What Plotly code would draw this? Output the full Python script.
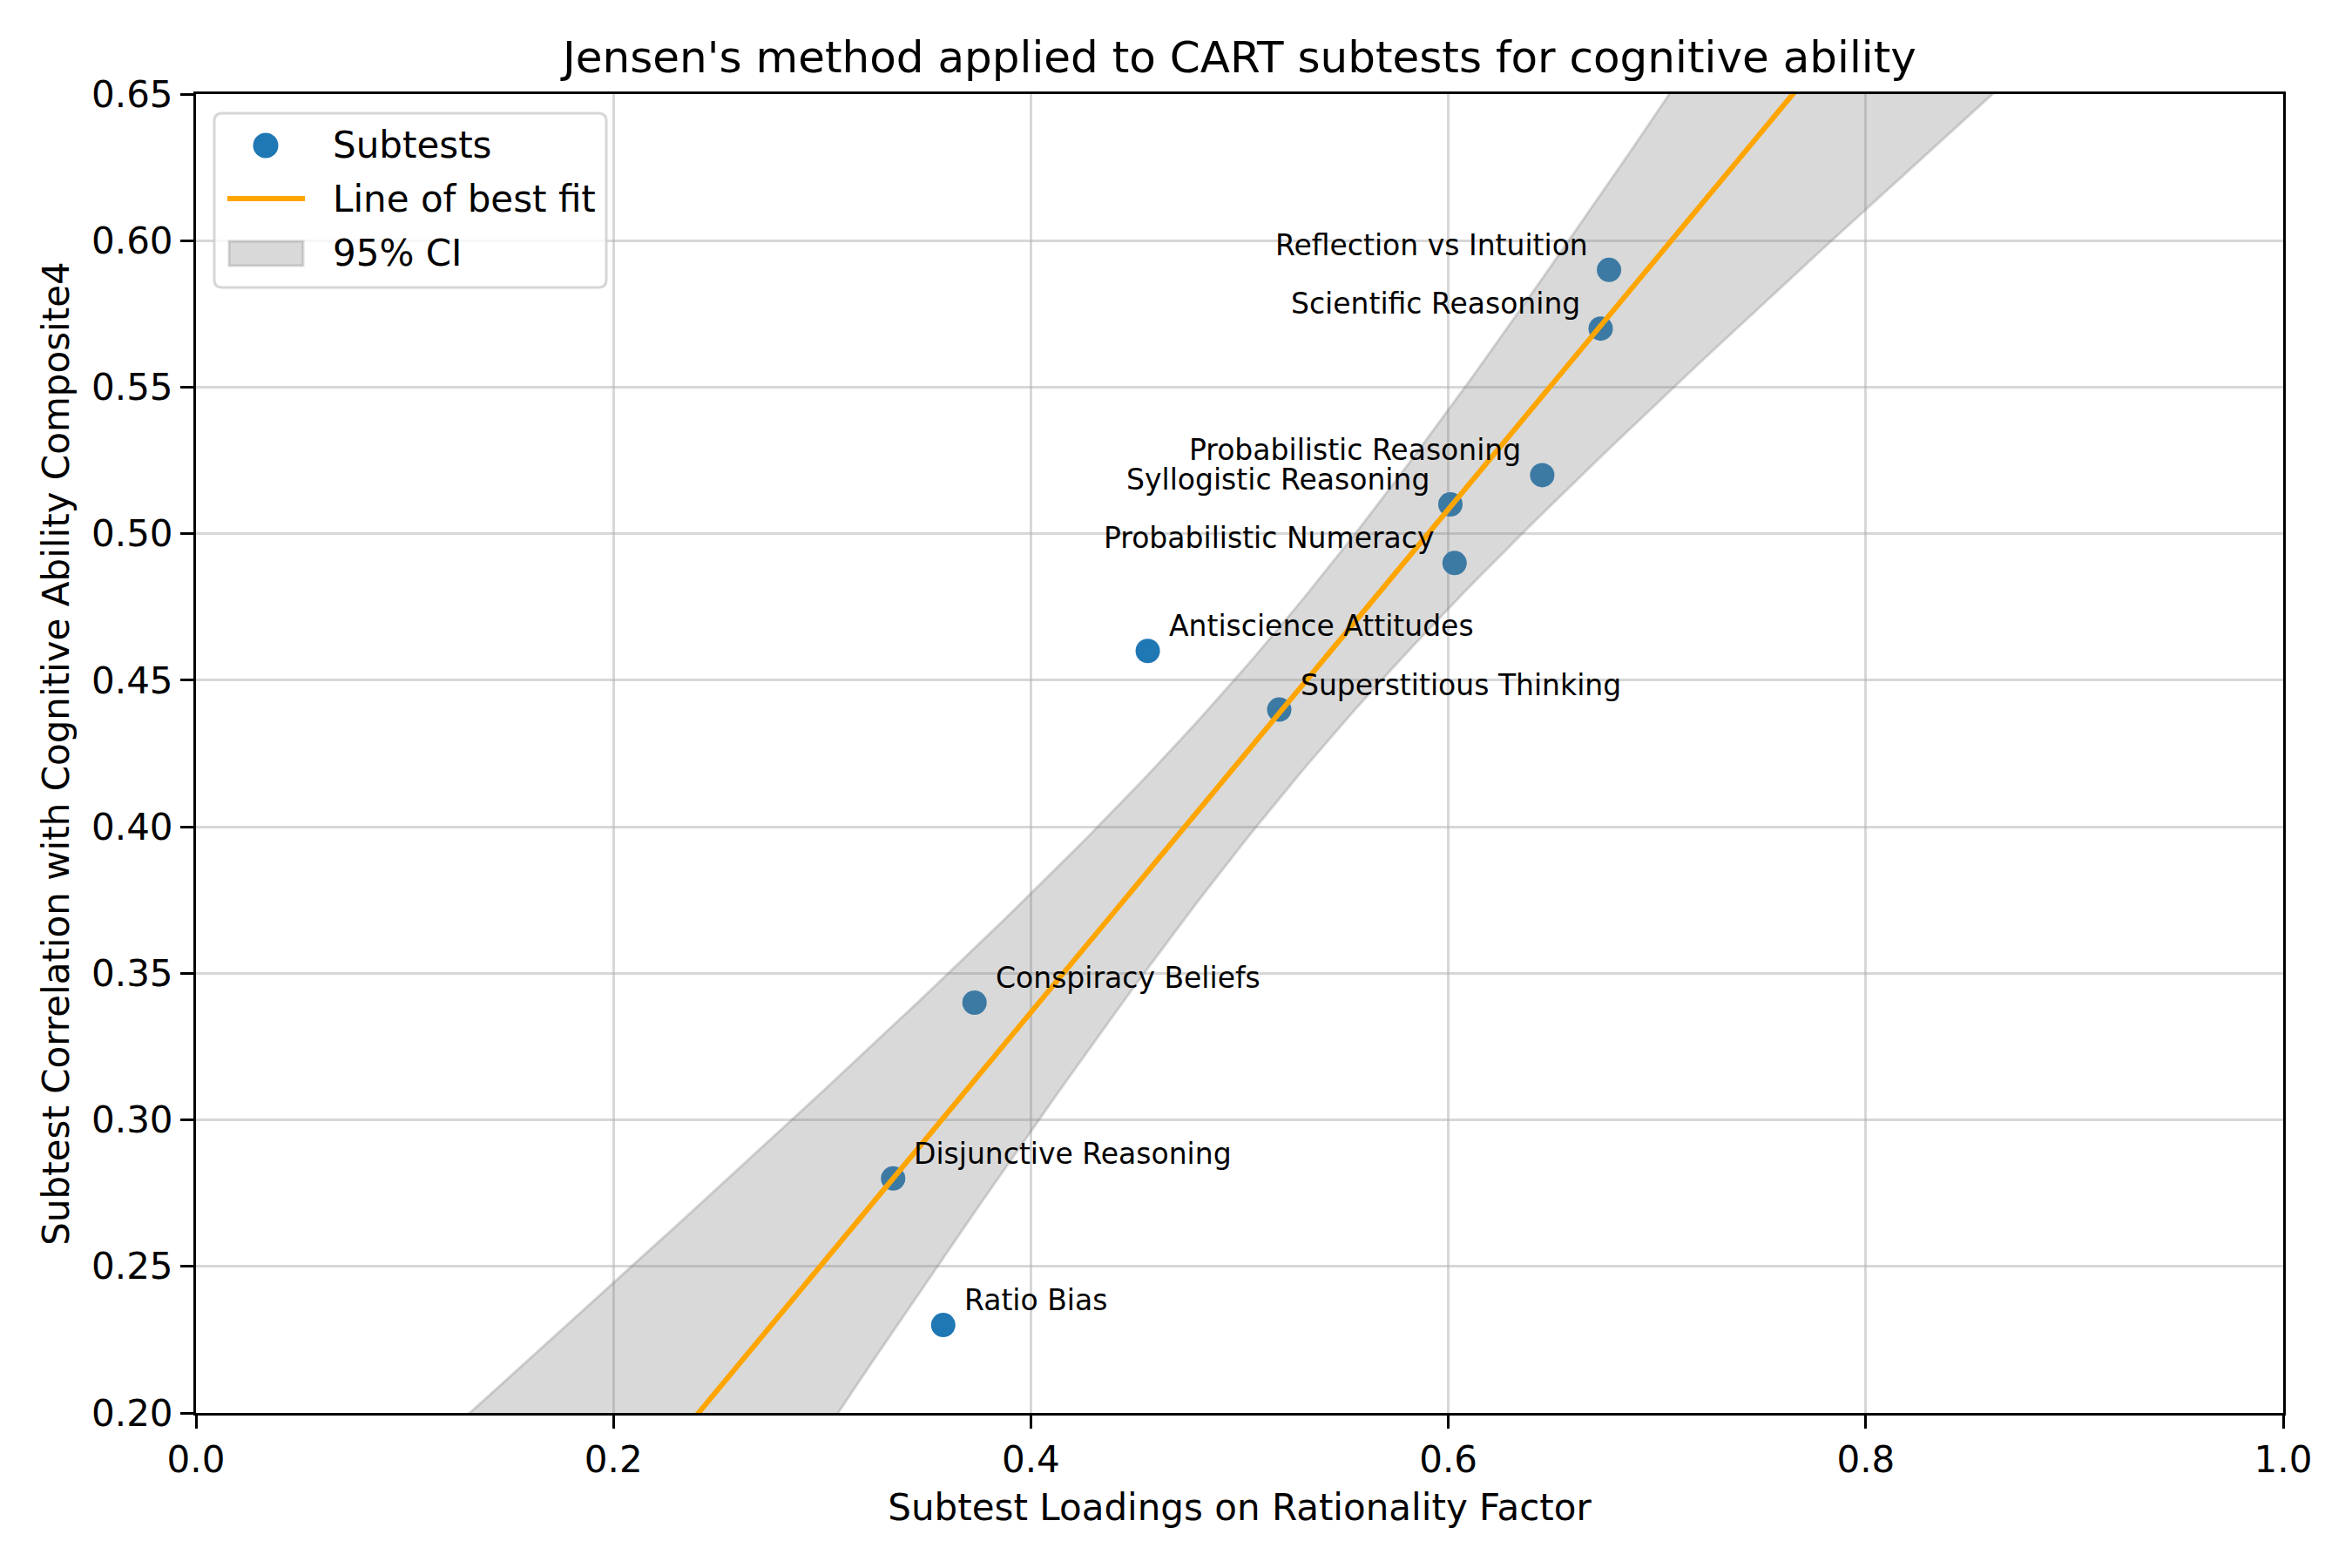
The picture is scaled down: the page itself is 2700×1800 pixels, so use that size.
import numpy as np
import plotly.graph_objects as go

# ---- data ----
subtests = ["Reflection vs Intuition", "Scientific Reasoning", "Probabilistic Reasoning",
            "Syllogistic Reasoning", "Probabilistic Numeracy", "Antiscience Attitudes",
            "Superstitious Thinking", "Conspiracy Beliefs", "Disjunctive Reasoning", "Ratio Bias"]
loadings = [0.677, 0.673, 0.645, 0.601, 0.603, 0.456, 0.519, 0.373, 0.334, 0.358]
correlations = [0.59, 0.57, 0.52, 0.51, 0.49, 0.46, 0.44, 0.34, 0.28, 0.23]
label_side = ["left", "left", "left", "left", "left", "right", "right", "right", "right", "right"]
legend_labels = ["Subtests", "Line of best fit", "95% CI"]
x_ticks = [0.0, 0.2, 0.4, 0.6, 0.8, 1.0]
y_ticks = [0.20, 0.25, 0.30, 0.35, 0.40, 0.45, 0.50, 0.55, 0.60, 0.65]
T_CRIT = 2.306  # t(0.975, df=8)

# ---- fit & CI ----
x = np.array(loadings)
y = np.array(correlations)
n = len(x)
slope, intercept = np.polyfit(x, y, 1)
resid = y - (intercept + slope * x)
s = np.sqrt(np.sum(resid ** 2) / (n - 2))
sxx = np.sum((x - x.mean()) ** 2)
xs = np.linspace(0, 1, 200)
yfit = intercept + slope * xs
hw = T_CRIT * s * np.sqrt(1 / n + (xs - x.mean()) ** 2 / sxx)
lower, upper = yfit - hw, yfit + hw

FONT = "DejaVu Sans"
W, H = 2700, 1800
ML, MR, MT, MB = 225, 79, 108, 178
PW, PH = W - ML - MR, H - MT - MB

BLUE = "#1f77b4"
ORANGE = "#FFA500"
BAND_FILL = "rgba(128,128,128,0.3)"

fig = go.Figure()
fig.add_trace(go.Scatter(x=loadings, y=correlations, mode="markers", name=legend_labels[0],
                         marker=dict(color=BLUE, size=28, line=dict(width=0))))
fig.add_trace(go.Scatter(x=np.concatenate([xs, xs[::-1]]), y=np.concatenate([upper, lower[::-1]]),
                         mode="lines", fill="toself", name=legend_labels[2],
                         fillcolor=BAND_FILL, line=dict(color=BAND_FILL, width=3)))
fig.add_trace(go.Scatter(x=xs, y=yfit, mode="lines", name=legend_labels[1],
                         line=dict(color=ORANGE, width=6)))

for name, xv, yv, side in zip(subtests, loadings, correlations, label_side):
    fig.add_annotation(x=xv, y=yv, xref="x", yref="y", text=name, showarrow=False,
                       xanchor="right" if side == "left" else "left", yanchor="bottom",
                       xshift=-22 if side == "left" else 22, yshift=7,
                       font=dict(family=FONT, size=33, color="black"))


# ---- custom legend (pixel layout converted to paper coords) ----
def px(xp):
    return (xp - ML) / PW


def py(yp):
    return 1 - (yp - MT) / PH


bx0, by0, bx1, by1, r = 246, 130, 696, 330, 9
path = (f"M{px(bx0 + r)},{py(by0)} L{px(bx1 - r)},{py(by0)} Q{px(bx1)},{py(by0)} {px(bx1)},{py(by0 + r)} "
        f"L{px(bx1)},{py(by1 - r)} Q{px(bx1)},{py(by1)} {px(bx1 - r)},{py(by1)} "
        f"L{px(bx0 + r)},{py(by1)} Q{px(bx0)},{py(by1)} {px(bx0)},{py(by1 - r)} "
        f"L{px(bx0)},{py(by0 + r)} Q{px(bx0)},{py(by0)} {px(bx0 + r)},{py(by0)} Z")
fig.add_shape(type="path", path=path, xref="paper", yref="paper",
              fillcolor="rgba(255,255,255,0.8)", line=dict(color="rgba(204,204,204,0.8)", width=3))
rows = [167, 228, 291]
# marker
fig.add_shape(type="circle", xref="paper", yref="paper",
              x0=px(305 - 14.5), x1=px(305 + 14.5), y0=py(rows[0] + 14.5), y1=py(rows[0] - 14.5),
              fillcolor=BLUE, line=dict(width=0))
# line
fig.add_shape(type="line", xref="paper", yref="paper",
              x0=px(261), x1=px(350), y0=py(rows[1]), y1=py(rows[1]),
              line=dict(color=ORANGE, width=6))
# band patch
fig.add_shape(type="rect", xref="paper", yref="paper",
              x0=px(263), x1=px(348), y0=py(rows[2] + 14), y1=py(rows[2] - 14),
              fillcolor=BAND_FILL, line=dict(color=BAND_FILL, width=3))
for lab, ry in zip(legend_labels, rows):
    fig.add_annotation(x=px(380), y=py(ry), xref="paper", yref="paper", text=lab,
                       showarrow=False, xanchor="left", yanchor="middle",
                       font=dict(family=FONT, size=42, color="black"))

axis_common = dict(showline=True, linecolor="black", linewidth=3, mirror=True,
                   ticks="outside", ticklen=15, tickwidth=3, tickcolor="black",
                   showgrid=True, gridcolor="rgba(176,176,176,0.5)", gridwidth=3,
                   zeroline=False, tickfont=dict(family=FONT, size=42, color="black"))
fig.update_xaxes(range=[0, 1], tickvals=x_ticks, ticktext=[f"{v:.1f}" for v in x_ticks],
                 title=dict(text="Subtest Loadings on Rationality Factor",
                            font=dict(family=FONT, size=42, color="black"), standoff=17),
                 **axis_common)
fig.update_yaxes(range=[0.2, 0.65], tickvals=y_ticks, ticktext=[f"{v:.2f}" for v in y_ticks],
                 title=dict(text="Subtest Correlation with Cognitive Ability Composite4",
                            font=dict(family=FONT, size=42, color="black"), standoff=13),
                 **axis_common)

fig.update_layout(
    width=W, height=H, autosize=False,
    margin=dict(l=ML, r=MR, t=MT, b=MB),
    paper_bgcolor="white", plot_bgcolor="white",
    title=dict(text="Jensen's method applied to CART subtests for cognitive ability",
               xref="paper", x=0.5, xanchor="center", y=1 - 65 / H, yanchor="middle",
               font=dict(family=FONT, size=50, color="black")),
    showlegend=False,
)

fig.write_html("out.html")
